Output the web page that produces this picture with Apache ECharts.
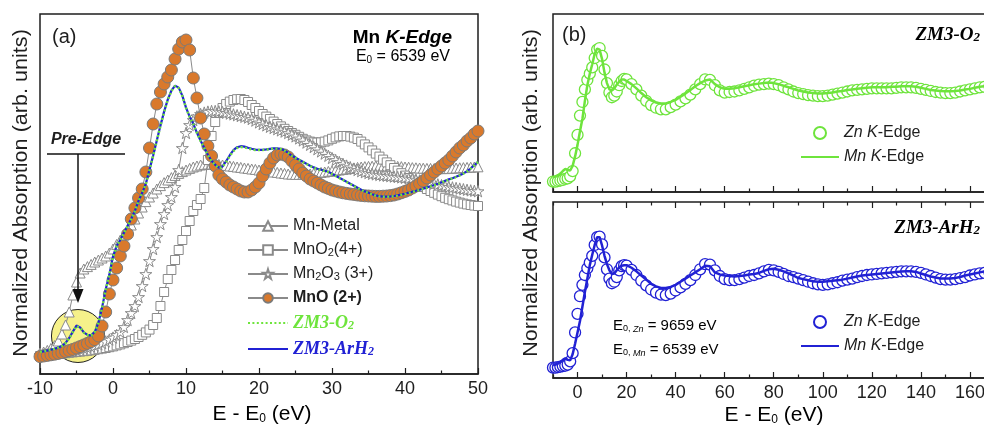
<!DOCTYPE html>
<html>
<head>
<meta charset="utf-8">
<script src="https://cdn.jsdelivr.net/npm/echarts@6/dist/echarts.min.js"></script>
<style>
html,body{margin:0;padding:0;background:#fff}
#c{width:984px;height:431px}
</style>
</head>
<body>
<div id="c"></div>
<script>
// ---------- (a) Mn K-edge XANES, energy grid (eV, relative to E0) ----------
const energyA = [
  -10,-9.5,-9,-8.5,-8,-7.5,-7,-6.5,-6,-5.5,-5,-4.5,-4,-3.5,-3,-2.5,-2,-1.5,-1,-0.5,
  0,0.5,1,1.5,2,2.5,3,3.5,4,4.5,5,5.5,6,6.5,7,7.5,8,8.5,9,9.5,
  10,10.5,11,11.5,12,12.5,13,13.5,14,14.5,15,15.5,16,16.5,17,17.5,18,18.5,19,19.5,
  20,20.5,21,21.5,22,22.5,23,23.5,24,24.5,25,25.5,26,26.5,27,27.5,28,28.5,29,29.5,
  30,30.5,31,31.5,32,32.5,33,33.5,34,34.5,35,35.5,36,36.5,37,37.5,38,38.5,39,39.5,
  40,40.5,41,41.5,42,42.5,43,43.5,44,44.5,45,45.5,46,46.5,47,47.5,48,48.5,49,49.5,50
];
const mnMetal = [
  0.105,0.11,0.118,0.128,0.142,0.165,0.2,0.245,0.31,0.395,0.46,0.505,0.525,0.537,0.548,0.56,0.57,0.58,0.59,0.605,
  0.625,0.648,0.67,0.695,0.72,0.745,0.775,0.805,0.835,0.862,0.885,0.905,0.925,0.942,0.957,0.97,0.982,0.993,1.003,1.012,
  1.02,1.028,1.035,1.04,1.045,1.048,1.05,1.05,1.05,1.048,1.045,1.043,1.04,1.038,1.035,1.033,1.03,1.028,1.025,1.023,
  1.02,1.018,1.015,1.013,1.01,1.008,1.005,1.003,1.0,0.999,0.998,0.998,0.998,0.999,1.0,1.003,1.005,1.008,1.01,1.013,
  1.015,1.018,1.02,1.023,1.025,1.028,1.03,1.033,1.035,1.037,1.038,1.039,1.04,1.04,1.04,1.04,1.04,1.039,1.038,1.037,
  1.035,1.034,1.032,1.031,1.03,1.029,1.028,1.028,1.027,1.027,1.027,1.027,1.028,1.029,1.03,1.031,1.032,1.033,1.034,1.035,1.036
];
const mnO2 = [
  0.09,0.092,0.094,0.096,0.098,0.1,0.102,0.104,0.106,0.108,0.11,0.112,0.114,0.116,0.118,0.121,0.124,0.127,0.13,0.134,
  0.138,0.143,0.148,0.154,0.16,0.167,0.175,0.185,0.196,0.208,0.222,0.245,0.28,0.34,0.41,0.475,0.52,0.57,0.62,0.67,
  0.715,0.765,0.815,0.845,0.875,0.93,1.07,1.19,1.26,1.305,1.33,1.35,1.362,1.37,1.374,1.375,1.37,1.36,1.345,1.33,
  1.315,1.3,1.287,1.275,1.262,1.25,1.238,1.226,1.215,1.205,1.196,1.186,1.176,1.168,1.162,1.158,1.157,1.158,1.162,1.168,
  1.176,1.183,1.188,1.19,1.19,1.187,1.182,1.175,1.162,1.148,1.133,1.118,1.102,1.087,1.072,1.058,1.044,1.03,1.017,1.004,
  0.992,0.98,0.968,0.957,0.946,0.935,0.925,0.915,0.906,0.897,0.889,0.881,0.874,0.868,0.862,0.857,0.852,0.848,0.845,0.842,0.84
];
const mn2O3 = [
  0.095,0.097,0.099,0.101,0.103,0.105,0.108,0.111,0.114,0.117,0.12,0.124,0.128,0.132,0.137,0.142,0.148,0.155,0.163,0.172,
  0.182,0.195,0.21,0.235,0.27,0.305,0.34,0.385,0.44,0.5,0.565,0.625,0.685,0.75,0.8,0.845,0.885,0.935,1.02,1.13,
  1.205,1.245,1.27,1.288,1.3,1.307,1.312,1.315,1.315,1.313,1.31,1.306,1.302,1.298,1.294,1.29,1.286,1.282,1.275,1.267,
  1.258,1.25,1.243,1.236,1.23,1.224,1.218,1.212,1.205,1.197,1.188,1.178,1.168,1.157,1.146,1.135,1.124,1.113,1.102,1.091,
  1.08,1.07,1.06,1.051,1.042,1.034,1.027,1.02,1.014,1.009,1.005,1.001,0.998,0.995,0.993,0.991,0.989,0.987,0.985,0.983,
  0.981,0.978,0.975,0.972,0.968,0.964,0.96,0.956,0.952,0.948,0.944,0.94,0.936,0.933,0.93,0.927,0.924,0.921,0.918,0.916,0.914
];
const mnO = [
  0.087,0.09,0.093,0.096,0.099,0.103,0.107,0.112,0.117,0.123,0.13,0.137,0.145,0.153,0.162,0.172,0.19,0.24,0.31,0.40,
  0.47,0.53,0.59,0.64,0.70,0.775,0.83,0.88,0.925,1.01,1.13,1.25,1.35,1.41,1.45,1.485,1.52,1.575,1.625,1.66,
  1.67,1.62,1.48,1.38,1.28,1.2,1.14,1.09,1.04,0.995,0.975,0.96,0.945,0.935,0.925,0.915,0.91,0.91,0.92,0.935,
  0.955,0.99,1.025,1.055,1.08,1.095,1.1,1.095,1.085,1.065,1.045,1.025,1.005,0.99,0.975,0.965,0.955,0.945,0.935,0.928,
  0.92,0.915,0.91,0.906,0.903,0.9,0.898,0.895,0.893,0.891,0.89,0.889,0.888,0.888,0.889,0.89,0.892,0.895,0.9,0.906,
  0.913,0.92,0.93,0.94,0.952,0.965,0.98,0.995,1.01,1.025,1.04,1.055,1.07,1.09,1.11,1.13,1.145,1.165,1.18,1.2,1.215
];
const zm3O2 = [
  0.11,0.113,0.117,0.121,0.126,0.132,0.14,0.155,0.178,0.21,0.24,0.232,0.207,0.195,0.192,0.21,0.255,0.33,0.42,0.495,
  0.585,0.64,0.67,0.705,0.74,0.775,0.815,0.865,0.905,0.95,1.02,1.09,1.165,1.24,1.31,1.37,1.415,1.44,1.43,1.39,
  1.33,1.285,1.25,1.205,1.165,1.13,1.095,1.065,1.045,1.03,1.035,1.06,1.09,1.115,1.13,1.135,1.133,1.128,1.123,1.12,
  1.12,1.12,1.122,1.125,1.127,1.127,1.124,1.117,1.105,1.09,1.08,1.07,1.06,1.05,1.04,1.032,1.025,1.02,1.015,1.01,
  1.0,0.99,0.98,0.97,0.96,0.95,0.94,0.93,0.92,0.912,0.905,0.898,0.892,0.888,0.886,0.886,0.887,0.889,0.892,0.896,
  0.9,0.905,0.91,0.915,0.92,0.926,0.932,0.938,0.944,0.95,0.957,0.965,0.972,0.978,0.985,0.993,1.002,1.013,1.027,1.043,1.06
];
const zm3ArH2 = [
  0.11,0.113,0.117,0.121,0.126,0.132,0.14,0.156,0.18,0.212,0.242,0.233,0.208,0.196,0.193,0.211,0.256,0.332,0.422,0.497,
  0.588,0.641,0.671,0.706,0.741,0.776,0.816,0.866,0.906,0.952,1.022,1.092,1.167,1.242,1.312,1.372,1.417,1.442,1.432,1.392,
  1.332,1.287,1.251,1.206,1.166,1.131,1.096,1.066,1.046,1.032,1.038,1.064,1.094,1.119,1.134,1.139,1.137,1.131,1.126,1.122,
  1.121,1.121,1.123,1.126,1.128,1.128,1.125,1.118,1.106,1.091,1.081,1.071,1.061,1.051,1.041,1.033,1.026,1.021,1.016,1.011,
  1.001,0.991,0.981,0.971,0.961,0.951,0.941,0.931,0.921,0.913,0.906,0.899,0.893,0.889,0.887,0.887,0.888,0.89,0.893,0.897,
  0.901,0.906,0.911,0.916,0.921,0.927,0.933,0.939,0.945,0.951,0.958,0.966,0.973,0.979,0.986,0.994,1.003,1.014,1.028,1.044,1.061
];
// pre-edge highlight position (E, absorption)
const preEdgeSpot = [-4.8, 0.19];

// ---------- (b) Zn and Mn K-edges of the two samples ----------
const energyB = [
  -10,-9,-8,-7,-6,-5,-4,-3,-2,-1,0,1,2,3,4,5,6,7,8,9,10,11,12,13,14,15,16,17,18,19,20,
  22,24,26,28,30,32,34,36,38,40,42,44,46,48,50,52,54,56,58,60,62,64,66,68,70,72,74,76,78,80,
  82,84,86,88,90,92,94,96,98,100,102,104,106,108,110,112,114,116,118,120,122,124,126,128,130,
  132,134,136,138,140,142,144,146,148,150,152,154,156,158,160,162,164,166,168,170
];
const znEdgeO2 = [
  0.1,0.1,0.105,0.11,0.115,0.125,0.13,0.15,0.2,0.37,0.545,0.73,0.86,0.98,1.07,1.13,1.19,1.28,1.36,1.375,1.3,1.17,1.04,0.95,0.905,0.92,0.96,1.02,1.06,1.08,1.075,
  1.03,0.98,0.92,0.87,0.83, 0.805,0.79,0.79,0.81,0.835, 0.865,0.895,0.93,0.98,1.03, 1.075,1.07,1.02,0.97,0.95,
  0.955,0.96,0.97,0.985,1.0, 1.015,1.025,1.03,1.035,1.03, 1.02,1.0,0.98,0.96,0.945, 0.935,0.925,0.92,0.915,0.915,
  0.92,0.93,0.94,0.95,0.96, 0.97,0.975,0.98,0.985,0.99, 0.99,0.99,0.99,0.99,0.995, 1.0,1.0,1.0,0.995,0.985,
  0.975,0.965,0.955,0.95,0.945, 0.945,0.95,0.96,0.97,0.98, 0.99,1.0,1.005,1.01,1.01
];
const mnEdgeO2 = [
  0.14,0.15,0.16,0.175,0.2,0.22,0.21,0.205,0.25,0.34,0.45,0.58,0.7,0.87,1.02,1.13,1.22,1.32,1.37,1.36,1.27,1.14,1.04,0.98,0.97,0.99,1.025,1.055,1.075,1.075,1.06,
  1.03,0.99,0.945,0.905,0.875, 0.855,0.845,0.845,0.86,0.88, 0.91,0.94,0.975,1.01,1.04, 1.065,1.075,1.03,1.0,0.985,
  0.985,0.99,1.0,1.01,1.02, 1.03,1.035,1.04,1.045,1.04, 1.03,1.015,1.0,0.985,0.97, 0.96,0.95,0.945,0.94,0.94,
  0.945,0.95,0.96,0.965,0.975, 0.98,0.985,0.99,0.995,1.0, 1.0,1.0,1.0,1.005,1.005, 1.01,1.01,1.01,1.005,0.995,
  0.985,0.975,0.97,0.965,0.962, 0.962,0.965,0.97,0.978,0.985, 0.995,1.005,1.01,1.015,1.015
];
const znEdgeArH2 = [
  0.1,0.1,0.105,0.11,0.115,0.12,0.13,0.16,0.24,0.44,0.62,0.79,0.9,0.995,1.06,1.115,1.18,1.285,1.36,1.365,1.29,1.165,1.05,0.96,0.915,0.93,0.975,1.04,1.08,1.09,1.085,
  1.045,0.995,0.94,0.895,0.855, 0.825,0.805,0.8,0.815,0.845, 0.875,0.91,0.945,0.995,1.05, 1.1,1.095,1.04,0.985,0.955,
  0.945,0.945,0.955,0.97,0.985, 0.995,1.01,1.03,1.045,1.04, 1.025,1.005,0.985,0.975,0.96, 0.945,0.93,0.915,0.905,0.9,
  0.905,0.915,0.925,0.94,0.95, 0.96,0.975,0.985,0.995,1.0, 1.005,1.01,1.015,1.02,1.025, 1.03,1.03,1.03,1.025,1.015,
  1.0,0.985,0.97,0.955,0.95, 0.95,0.955,0.965,0.975,0.99, 1.0,1.01,1.015,1.02,1.02
];
const mnEdgeArH2 = [
  0.125,0.13,0.14,0.155,0.175,0.19,0.175,0.17,0.23,0.33,0.44,0.55,0.69,0.83,0.96,1.09,1.19,1.285,1.36,1.36,1.28,1.18,1.1,1.04,1.005,1.01,1.04,1.07,1.085,1.09,1.09,
  1.065,1.03,0.99,0.95,0.91, 0.885,0.87,0.87,0.88,0.9, 0.93,0.96,0.99,1.02,1.05, 1.085,1.08,1.02,1.0,0.99,
  0.985,0.98,0.985,0.99,1.0, 1.005,1.015,1.035,1.05,1.055, 1.045,1.03,1.01,0.99,0.965, 0.955,0.945,0.935,0.93,0.93,
  0.935,0.94,0.945,0.95,0.96, 0.97,0.98,0.99,0.995,1.0, 1.005,1.01,1.015,1.02,1.025, 1.028,1.03,1.03,1.025,1.01,
  0.995,0.98,0.97,0.962,0.96, 0.96,0.965,0.975,0.99,1.0, 1.01,1.02,1.03,1.035,1.035
];
// tick positions for the (b) energy axis
const bMajorTicks = [0,20,40,60,80,100,120,140,160,180];
const bMinorTicks = [-10,10,30,50,70,90,110,130,150,170];

// ---------- styling ----------
const SANS = '"Liberation Sans", Arial, sans-serif';
const SERIF = '"Liberation Serif", "Times New Roman", serif';
const INK = '#1e1e1e';
const GRAY = '#8a8a8a';
const ORANGE = '#d9792c';
const GREEN = '#6ee43c';
const BLUE = '#2121d4';
const STAR = 'path://M50,2 L61.2,36.6 L97.6,36.6 L68.2,58 L79.4,92.6 L50,71.2 L20.6,92.6 L31.8,58 L2.4,36.6 L38.8,36.6 Z';

const pairs = (xs, ys) => xs.map((x, i) => [x, ys[i]]);

function referenceSeries(name, values, symbol, size, z) {
  return {
    type: 'line', name, xAxisIndex: 0, yAxisIndex: 0,
    data: pairs(energyA, values),
    symbol, symbolSize: size, symbolKeepAspect: true, showAllSymbol: true,
    lineStyle: { color: GRAY, width: 1 },
    itemStyle: { color: '#fff', borderColor: GRAY, borderWidth: 1 },
    z, animation: false
  };
}

function tickAxis(gridIndex, position, values, length, withLine) {
  return {
    type: 'value', gridIndex, position, min: -10, max: 180,
    axisLine: { show: withLine, onZero: false, lineStyle: { color: INK, width: 1.5 } },
    axisTick: { show: true, inside: true, length, customValues: values, lineStyle: { color: INK, width: 1.2 } },
    axisLabel: { show: false },
    splitLine: { show: false }
  };
}

const subRich = {
  t:  { fontFamily: SANS, fontSize: 21, color: INK },
  s:  { fontFamily: SANS, fontSize: 12, color: INK, lineHeight: 6, verticalAlign: 'bottom' }
};

const legendLabelsA = {
  'Mn-Metal': '{n|Mn-Metal}',
  'MnO2': '{n|MnO}{ns|2}{n|(4+)}',
  'Mn2O3': '{n|Mn}{ns|2}{n|O}{ns|3}{n| (3+)}',
  'MnO': '{b|MnO (2+)}',
  'ZM3-O2': '{g|ZM3-O}{gs|2}',
  'ZM3-ArH2': '{u|ZM3-ArH}{us|2}'
};
const legendLabelsB = {
  'znO2': '{i|Zn} {i|K}{n|-Edge}', 'mnO2': '{i|Mn} {i|K}{n|-Edge}',
  'znArH2': '{i|Zn} {i|K}{n|-Edge}', 'mnArH2': '{i|Mn} {i|K}{n|-Edge}'
};
const legendRichB = {
  n: { fontFamily: SANS, fontSize: 16, color: INK },
  i: { fontFamily: SANS, fontSize: 16, color: INK, fontStyle: 'italic' }
};
// plain-line legend entries: hide the marker that line legends draw by default
const lineOnly = name => ({ name, itemStyle: { opacity: 0 } });

const chart = echarts.init(document.getElementById('c'), null, { renderer: 'canvas' });

const gridBase = { show: true, borderColor: INK, borderWidth: 1.5, backgroundColor: 'transparent', outerBoundsMode: 'none', containLabel: false };

const yTitle = x => ({
  type: 'text', x, y: 193, rotation: Math.PI / 2, scaleX: 1.08, z: 50,
  style: { text: 'Normalized Absorption (arb. units)', fontFamily: SANS, fontSize: 20, fill: INK, align: 'center', verticalAlign: 'middle' }
});

chart.setOption({
  animation: false,
  backgroundColor: '#fff',
  textStyle: { fontFamily: SANS },
  grid: [
    Object.assign({ left: 40, top: 14, width: 438, height: 360 }, gridBase),
    Object.assign({ left: 553, top: 14, width: 466, height: 178 }, gridBase),
    Object.assign({ left: 553, top: 202, width: 466, height: 176 }, gridBase)
  ],
  xAxis: [
    {
      type: 'value', gridIndex: 0, min: -10, max: 50, interval: 10,
      axisLine: { show: true, onZero: false, lineStyle: { color: INK, width: 1.5 } },
      axisTick: { inside: true, length: 6, lineStyle: { color: INK, width: 1.2 } },
      minorTick: { show: true, splitNumber: 2, length: 3.5, lineStyle: { color: INK, width: 1.2 } },
      axisLabel: { color: INK, fontSize: 18, margin: 6, fontFamily: SANS },
      splitLine: { show: false }, minorSplitLine: { show: false }
    },
    tickAxis(1, 'bottom', bMajorTicks, 6, true),
    tickAxis(1, 'bottom', bMinorTicks, 3.5, false),
    Object.assign(tickAxis(2, 'bottom', bMajorTicks, 6, true), {
      axisLabel: { show: true, customValues: bMajorTicks, color: INK, fontSize: 18, margin: 6, fontFamily: SANS }
    }),
    tickAxis(2, 'bottom', bMinorTicks, 3.5, false),
    tickAxis(2, 'top', bMajorTicks, 6, false),
    tickAxis(2, 'top', bMinorTicks, 3.5, false)
  ],
  yAxis: [
    { type: 'value', gridIndex: 0, min: 0, max: 1.8, show: false },
    { type: 'value', gridIndex: 1, min: 0, max: 1.7, show: false },
    { type: 'value', gridIndex: 2, min: 0, max: 1.7, show: false }
  ],
  legend: [
    {
      left: 242, top: 213, orient: 'vertical', itemWidth: 40, itemHeight: 12, itemGap: 8,
      selectedMode: false,
      data: ['Mn-Metal', 'MnO2', 'Mn2O3', 'MnO', lineOnly('ZM3-O2'), lineOnly('ZM3-ArH2')],
      formatter: name => legendLabelsA[name],
      textStyle: {
        fontFamily: SANS, fontSize: 16, color: INK,
        rich: {
          n: { fontFamily: SANS, fontSize: 16, color: INK },
          ns: { fontFamily: SANS, fontSize: 11, color: INK, lineHeight: 6, verticalAlign: 'bottom' },
          b: { fontFamily: SANS, fontSize: 16, color: INK, fontWeight: 'bold' },
          g: { fontFamily: SERIF, fontSize: 18, color: GREEN, fontWeight: 'bold', fontStyle: 'italic' },
          gs: { fontFamily: SERIF, fontSize: 12, color: GREEN, fontWeight: 'bold', fontStyle: 'italic', lineHeight: 6, verticalAlign: 'bottom' },
          u: { fontFamily: SERIF, fontSize: 18, color: BLUE, fontWeight: 'bold', fontStyle: 'italic' },
          us: { fontFamily: SERIF, fontSize: 12, color: BLUE, fontWeight: 'bold', fontStyle: 'italic', lineHeight: 6, verticalAlign: 'bottom' }
        }
      }
    },
    {
      left: 795, top: 120, orient: 'vertical', itemWidth: 38, itemHeight: 12, itemGap: 8,
      selectedMode: false, data: ['znO2', lineOnly('mnO2')],
      formatter: name => legendLabelsB[name],
      textStyle: { fontSize: 16, color: INK, rich: legendRichB }
    },
    {
      left: 795, top: 309, orient: 'vertical', itemWidth: 38, itemHeight: 12, itemGap: 8,
      selectedMode: false, data: ['znArH2', lineOnly('mnArH2')],
      formatter: name => legendLabelsB[name],
      textStyle: { fontSize: 16, color: INK, rich: legendRichB }
    }
  ],
  series: [
    {
      type: 'scatter', name: 'pre-edge', xAxisIndex: 0, yAxisIndex: 0,
      data: [preEdgeSpot], symbolSize: 53, silent: true, z: 1,
      itemStyle: { color: '#f6f18a', borderColor: '#222', borderWidth: 1, opacity: 1 }
    },
    referenceSeries('Mn-Metal', mnMetal, 'triangle', 10, 2),
    referenceSeries('MnO2', mnO2, 'rect', 9, 3),
    referenceSeries('Mn2O3', mn2O3, STAR, 12, 4),
    {
      type: 'line', name: 'MnO', xAxisIndex: 0, yAxisIndex: 0,
      data: pairs(energyA, mnO), symbol: 'circle', symbolSize: 12, showAllSymbol: true,
      lineStyle: { color: GRAY, width: 1 },
      itemStyle: { color: ORANGE, borderColor: '#7a7a7a', borderWidth: 1 }, z: 5
    },
    {
      type: 'line', name: 'ZM3-ArH2', xAxisIndex: 0, yAxisIndex: 0,
      data: pairs(energyA, zm3ArH2), symbol: 'none',
      lineStyle: { color: BLUE, width: 2.2 }, itemStyle: { color: BLUE }, z: 6
    },
    {
      type: 'line', name: 'ZM3-O2', xAxisIndex: 0, yAxisIndex: 0,
      data: pairs(energyA, zm3O2), symbol: 'none',
      lineStyle: { color: GREEN, width: 2.4, type: [2, 2.4] }, itemStyle: { color: GREEN }, z: 7
    },
    {
      type: 'scatter', name: 'znO2', xAxisIndex: 1, yAxisIndex: 1,
      data: pairs(energyB, znEdgeO2), symbol: 'circle', symbolSize: 11,
      itemStyle: { color: '#fff', borderColor: GREEN, borderWidth: 1.3, opacity: 1 }, z: 2
    },
    {
      type: 'line', name: 'mnO2', xAxisIndex: 1, yAxisIndex: 1,
      data: pairs(energyB, mnEdgeO2), symbol: 'none',
      lineStyle: { color: GREEN, width: 2.5 }, itemStyle: { color: GREEN }, z: 3
    },
    {
      type: 'scatter', name: 'znArH2', xAxisIndex: 3, yAxisIndex: 2,
      data: pairs(energyB, znEdgeArH2), symbol: 'circle', symbolSize: 11,
      itemStyle: { color: '#fff', borderColor: BLUE, borderWidth: 1.3, opacity: 1 }, z: 2
    },
    {
      type: 'line', name: 'mnArH2', xAxisIndex: 3, yAxisIndex: 2,
      data: pairs(energyB, mnEdgeArH2), symbol: 'none',
      lineStyle: { color: BLUE, width: 2.5 }, itemStyle: { color: BLUE }, z: 3
    }
  ],
  graphic: [
    yTitle(21),
    yTitle(531),
    { type: 'text', x: 262, y: 414, z: 50,
      style: { text: '{t|E - E}{s|0}{t| (eV)}', rich: subRich, align: 'center', verticalAlign: 'middle' } },
    { type: 'text', x: 774, y: 415, z: 50,
      style: { text: '{t|E - E}{s|0}{t| (eV)}', rich: subRich, align: 'center', verticalAlign: 'middle' } },
    { type: 'text', x: 52, y: 37, z: 50,
      style: { text: '(a)', fontFamily: SANS, fontSize: 20, fill: INK, verticalAlign: 'middle' } },
    { type: 'text', x: 562, y: 35, z: 50,
      style: { text: '(b)', fontFamily: SANS, fontSize: 20, fill: INK, verticalAlign: 'middle' } },
    { type: 'text', x: 452, y: 38, z: 50,
      style: { text: '{b|Mn }{bi|K-Edge}', align: 'right', verticalAlign: 'middle',
        rich: { b: { fontFamily: SANS, fontSize: 19, fontWeight: 'bold', color: INK },
                bi: { fontFamily: SANS, fontSize: 19, fontWeight: 'bold', fontStyle: 'italic', color: INK } } } },
    { type: 'text', x: 450, y: 57, z: 50,
      style: { text: '{t|E}{s|0}{t| = 6539 eV}', align: 'right', verticalAlign: 'middle',
        rich: { t: { fontFamily: SANS, fontSize: 16, color: INK },
                s: { fontFamily: SANS, fontSize: 10, color: INK, lineHeight: 5, verticalAlign: 'bottom' } } } },
    { type: 'text', x: 86, y: 140, z: 50,
      style: { text: 'Pre-Edge', fontFamily: SANS, fontSize: 16, fontWeight: 'bold', fontStyle: 'italic', fill: INK, align: 'center', verticalAlign: 'middle' } },
    { type: 'line', z: 50, shape: { x1: 47, y1: 154, x2: 125, y2: 154 }, style: { stroke: '#111', lineWidth: 1.5 } },
    { type: 'line', z: 50, shape: { x1: 78, y1: 154, x2: 78, y2: 292 }, style: { stroke: '#111', lineWidth: 1.5 } },
    { type: 'polygon', z: 50, shape: { points: [[72.5, 289], [83.5, 289], [78, 303]] }, style: { fill: '#111' } },
    { type: 'text', x: 980, y: 35, z: 50,
      style: { text: '{g|ZM3-O}{s|2}', align: 'right', verticalAlign: 'middle',
        rich: { g: { fontFamily: SERIF, fontSize: 19, fontWeight: 'bold', fontStyle: 'italic', color: GREEN },
                s: { fontFamily: SERIF, fontSize: 13, fontWeight: 'bold', fontStyle: 'italic', color: GREEN, lineHeight: 6, verticalAlign: 'bottom' } } } },
    { type: 'text', x: 980, y: 228, z: 50,
      style: { text: '{g|ZM3-ArH}{s|2}', align: 'right', verticalAlign: 'middle',
        rich: { g: { fontFamily: SERIF, fontSize: 19, fontWeight: 'bold', fontStyle: 'italic', color: BLUE },
                s: { fontFamily: SERIF, fontSize: 13, fontWeight: 'bold', fontStyle: 'italic', color: BLUE, lineHeight: 6, verticalAlign: 'bottom' } } } },
    { type: 'text', x: 613, y: 326, z: 50,
      style: { text: '{t|E}{s|0, }{si|Zn}{t| = 9659 eV}', verticalAlign: 'middle',
        rich: { t: { fontFamily: SANS, fontSize: 15, color: INK },
                s: { fontFamily: SANS, fontSize: 9, color: INK, lineHeight: 5, verticalAlign: 'bottom' },
                si: { fontFamily: SANS, fontSize: 9, fontStyle: 'italic', color: INK, lineHeight: 5, verticalAlign: 'bottom' } } } },
    { type: 'text', x: 613, y: 350, z: 50,
      style: { text: '{t|E}{s|0, }{si|Mn}{t| = 6539 eV}', verticalAlign: 'middle',
        rich: { t: { fontFamily: SANS, fontSize: 15, color: INK },
                s: { fontFamily: SANS, fontSize: 9, color: INK, lineHeight: 5, verticalAlign: 'bottom' },
                si: { fontFamily: SANS, fontSize: 9, fontStyle: 'italic', color: INK, lineHeight: 5, verticalAlign: 'bottom' } } } }
  ]
});
</script>
</body>
</html>
